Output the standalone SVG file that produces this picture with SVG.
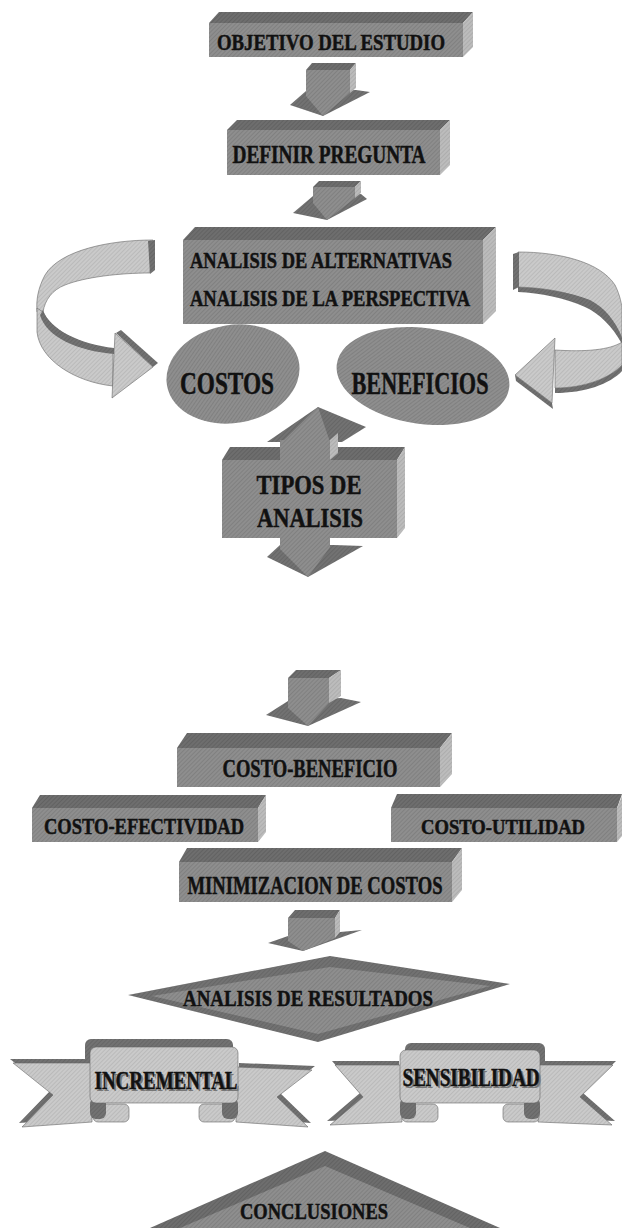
<svg xmlns="http://www.w3.org/2000/svg" width="622" height="1228" viewBox="0 0 622 1228">
<defs>
<pattern id="pFront" width="3" height="3" patternUnits="userSpaceOnUse" patternTransform="rotate(45)"><rect width="3" height="3" fill="#8e8e8e"/><rect width="1" height="3" fill="#808080"/></pattern>
<pattern id="pTop" width="3" height="3" patternUnits="userSpaceOnUse" patternTransform="rotate(45)"><rect width="3" height="3" fill="#6e6e6e"/><rect width="1" height="3" fill="#626262"/></pattern>
<pattern id="pSide" width="3" height="3" patternUnits="userSpaceOnUse" patternTransform="rotate(45)"><rect width="3" height="3" fill="#bcbcbc"/><rect width="1" height="3" fill="#adadad"/></pattern>
<pattern id="pLight" width="3" height="3" patternUnits="userSpaceOnUse" patternTransform="rotate(45)"><rect width="3" height="3" fill="#cacaca"/><rect width="1" height="3" fill="#bababa"/></pattern>
<pattern id="pDark" width="3" height="3" patternUnits="userSpaceOnUse" patternTransform="rotate(45)"><rect width="3" height="3" fill="#727272"/><rect width="1" height="3" fill="#666666"/></pattern>
</defs>
<style>
.front{fill:url(#pFront)}
.top{fill:url(#pTop)}
.side{fill:url(#pSide)}
.light{fill:url(#pLight);stroke:#666;stroke-width:0.6}
.dark{fill:url(#pDark)}
.lbl{font-family:"Liberation Serif","Times New Roman",serif;font-weight:bold;fill:#111;stroke:#111;stroke-width:0.5;text-anchor:middle}
.sh{font-family:"Liberation Serif","Times New Roman",serif;font-weight:bold;fill:#777;text-anchor:middle}
</style>
<rect width="622" height="1228" fill="#ffffff"/>

<g id="objetivo">
<polygon class="top" points="209,23 219,12 473,12 463,23"/>
<rect class="front" x="209" y="23" width="254" height="34"/>
<polygon class="side" points="463,23 473,12 473,47 463,57"/>
<text class="lbl" x="331" y="50" font-size="24" textLength="228" lengthAdjust="spacingAndGlyphs">OBJETIVO DEL ESTUDIO</text>
</g>

<g id="definir">
<polygon class="top" points="227,130 237,120 450,120 440,130"/>
<rect class="front" x="227" y="130" width="213" height="45"/>
<polygon class="side" points="440,130 450,120 450,165 440,175"/>
<text class="lbl" x="329" y="163" font-size="25" textLength="193" lengthAdjust="spacingAndGlyphs">DEFINIR PREGUNTA</text>
</g>

<g id="alternativas">
<polygon class="top" points="183,240 195,227 496,227 483,240"/>
<rect class="front" x="183" y="240" width="300" height="84"/>
<polygon class="side" points="483,240 496,227 496,311 483,324"/>
<text class="lbl" x="321" y="268" font-size="23" textLength="262" lengthAdjust="spacingAndGlyphs">ANALISIS DE ALTERNATIVAS</text>
<text class="lbl" x="330" y="306" font-size="23" textLength="280" lengthAdjust="spacingAndGlyphs">ANALISIS DE LA PERSPECTIVA</text>
</g>

<g id="costos">
<ellipse class="front" cx="233" cy="374" rx="67" ry="49" transform="rotate(-10 233 374)"/>
<text class="lbl" x="227" y="394" font-size="32" textLength="94" lengthAdjust="spacingAndGlyphs">COSTOS</text>
</g>

<g id="beneficios">
<ellipse class="front" cx="423" cy="376" rx="87" ry="48" transform="rotate(8 423 376)"/>
<text class="lbl" x="420" y="394" font-size="32" textLength="137" lengthAdjust="spacingAndGlyphs">BENEFICIOS</text>
</g>

<g id="tipos">
<polygon class="dark" points="267,442 318,407 366,427 342,442"/>
<polygon class="front" points="282,442 318,407 330,442"/>
<polygon class="top" points="222,460 230,447 405,447 397,460"/>
<rect class="front" x="222" y="460" width="175" height="78"/>
<polygon class="side" points="397,460 405,447 405,528 397,538"/>
<rect class="front" x="280" y="440" width="50" height="20"/>
<polygon class="side" points="330,440 338,433 338,453 330,460"/>
<polygon class="dark" points="280,545 267,557 308,577 363,546 334,545"/>
<polygon class="front" points="280,538 330,538 330,547 308,577 280,549"/>
<text class="lbl" x="309" y="494" font-size="28" textLength="105" lengthAdjust="spacingAndGlyphs">TIPOS DE</text>
<text class="lbl" x="310" y="527" font-size="28" textLength="106" lengthAdjust="spacingAndGlyphs">ANALISIS</text>
</g>

<g id="costo-beneficio">
<polygon class="top" points="177,748 187,733 452,733 440,748"/>
<rect class="front" x="177" y="748" width="263" height="39"/>
<polygon class="side" points="440,748 452,733 452,774 440,787"/>
<text class="lbl" x="310" y="777" font-size="26" textLength="175" lengthAdjust="spacingAndGlyphs">COSTO-BENEFICIO</text>
</g>

<g id="costo-efectividad">
<polygon class="top" points="32,808 40,795 266,795 258,808"/>
<rect class="front" x="32" y="808" width="226" height="34"/>
<polygon class="side" points="258,808 266,795 266,832 258,842"/>
<text class="lbl" x="144" y="834" font-size="24" textLength="200" lengthAdjust="spacingAndGlyphs">COSTO-EFECTIVIDAD</text>
</g>

<g id="costo-utilidad">
<polygon class="top" points="391,808 397,794 622,794 617,808"/>
<rect class="front" x="391" y="808" width="226" height="34"/>
<polygon class="side" points="617,808 622,796 622,836 617,842"/>
<text class="lbl" x="503" y="834" font-size="21" textLength="164" lengthAdjust="spacingAndGlyphs">COSTO-UTILIDAD</text>
</g>

<g id="minimizacion">
<polygon class="top" points="179,862 187,848 462,848 452,862"/>
<rect class="front" x="179" y="862" width="273" height="40"/>
<polygon class="side" points="452,862 462,848 462,890 452,902"/>
<text class="lbl" x="315" y="894" font-size="26" textLength="255" lengthAdjust="spacingAndGlyphs">MINIMIZACION DE COSTOS</text>
</g>

<g id="resultados">
<polygon class="dark" points="128,995 330,956 510,984 318,1042"/>
<polygon class="front" points="152,996 330,967 490,986 318,1034"/>
<text class="lbl" x="308" y="1006" font-size="24" textLength="250" lengthAdjust="spacingAndGlyphs">ANALISIS DE RESULTADOS</text>
</g>

<g id="incremental">
<rect class="dark" x="85" y="1039" width="148" height="57" rx="6"/>
<polygon class="dark" points="10,1059 89,1059 89,1118 19,1123 50,1091"/>
<polygon class="dark" points="239,1063 315,1066 280,1093 311,1123 239,1118"/>
<polygon class="light" points="13,1063 92,1063 92,1122 22,1127 53,1095"/>
<polygon class="light" points="236,1067 312,1070 277,1097 308,1127 236,1122"/>
<rect class="light" x="93" y="1104" width="36" height="18" rx="5"/>
<rect class="light" x="199" y="1104" width="36" height="18" rx="5"/>
<rect class="dark" x="90" y="1098" width="16" height="21" rx="6"/>
<rect class="dark" x="222" y="1098" width="16" height="21" rx="6"/>
<rect class="light" x="90" y="1047" width="148" height="56" rx="6"/>
<text class="sh" x="168" y="1091" font-size="26" textLength="143" lengthAdjust="spacingAndGlyphs">INCREMENTAL</text>
<text class="lbl" x="166" y="1089" font-size="26" textLength="143" lengthAdjust="spacingAndGlyphs">INCREMENTAL</text>
</g>

<g id="sensibilidad">
<rect class="dark" x="405" y="1043" width="140" height="53" rx="6"/>
<polygon class="dark" points="332,1061 399,1061 399,1118 327,1121 360,1093"/>
<polygon class="dark" points="541,1061 616,1061 583,1093 615,1121 541,1118"/>
<polygon class="light" points="335,1065 402,1065 402,1122 330,1125 363,1097"/>
<polygon class="light" points="538,1065 613,1065 580,1097 612,1125 538,1122"/>
<rect class="light" x="402" y="1104" width="36" height="18" rx="5"/>
<rect class="light" x="503" y="1104" width="36" height="18" rx="5"/>
<rect class="dark" x="400" y="1098" width="16" height="21" rx="6"/>
<rect class="dark" x="524" y="1098" width="16" height="21" rx="6"/>
<rect class="light" x="400" y="1050" width="140" height="53" rx="6"/>
<text class="sh" x="473" y="1088" font-size="26" textLength="137" lengthAdjust="spacingAndGlyphs">SENSIBILIDAD</text>
<text class="lbl" x="471" y="1086" font-size="26" textLength="137" lengthAdjust="spacingAndGlyphs">SENSIBILIDAD</text>
</g>

<g id="conclusiones">
<polygon class="top" points="150,1228 325,1151 500,1228"/>
<polygon class="front" points="180,1228 325,1166 470,1228"/>
<text class="lbl" x="314" y="1219" font-size="24" textLength="148" lengthAdjust="spacingAndGlyphs">CONCLUSIONES</text>
</g>

<g id="connectors">
<g id="arrow1">
<polygon class="dark" points="306,91 290,105 323,116 370,92 356,90"/>
<polygon class="top" points="306,70 312,63 356,63 350,70"/>
<polygon class="front" points="306,70 350,70 350,93 323,116 306,96"/>
<polygon class="side" points="350,70 356,63 356,88 350,93"/>
</g>
<g id="arrow2">
<polygon class="dark" points="313,196 293,213 327,220 367,199 361,194"/>
<polygon class="top" points="313,187 319,181 361,181 355,187"/>
<polygon class="front" points="313,187 355,187 355,198 327,220 313,203"/>
<polygon class="side" points="355,187 361,181 361,193 355,198"/>
</g>
<g id="arrow3">
<polygon class="dark" points="288,701 266,715 308,726 361,702 341,698"/>
<polygon class="top" points="288,678 296,670 341,670 329,678"/>
<polygon class="front" points="288,678 329,678 329,703 308,726 288,708"/>
<polygon class="side" points="329,678 341,670 341,696 329,703"/>
</g>
<g id="arrow4">
<polygon class="dark" points="288,936 268,943 303,951 362,930 340,932"/>
<polygon class="top" points="288,918 295,910 340,910 335,918"/>
<polygon class="front" points="288,918 335,918 335,938 303,951 288,941"/>
<polygon class="side" points="335,918 340,910 340,932 335,938"/>
</g>
<g id="arrow-left">
<path class="light" d="M153,240 C110,240 60,250 45,275 C38,288 36,300 37,312 L43,312 C45,300 52,290 65,285 C85,277 120,273 150,273 Z"/>
<path class="light" d="M37,308 L37,332 C40,360 75,382 113,386 L113,350 C80,345 50,330 43,312 Z"/>
<path class="dark" d="M43,310 C50,330 80,344 114,348 L114,354 C78,351 46,337 40,315 Z"/>
<polygon class="light" points="115,333 153,367 112,398"/>
<polygon class="dark" points="116,333 121,330 158,363 153,367"/>
<polygon class="dark" points="148,241 155,240 155,270 150,274"/>
</g>
<g id="arrow-right">
<path class="light" d="M518,252 C560,252 600,262 615,285 C620,295 622,305 622,310 L622,338 C615,320 600,305 580,298 C560,290 540,288 518,287 Z"/>
<path class="dark" d="M518,287 C545,288 570,292 590,300 C605,308 615,320 622,338 L622,344 C612,326 600,314 585,307 C565,298 540,293 518,292 Z"/>
<path class="light" d="M622,342 C610,350 585,352 555,350 L555,388 C585,388 610,378 622,365 Z"/>
<path class="dark" d="M555,388 C585,388 610,378 622,365 L622,371 C610,384 585,393 555,393 Z"/>
<polygon class="light" points="555,338 515,375 552,403"/>
<polygon class="dark" points="515,375 552,403 553,409 516,381"/>
<polygon class="dark" points="513,254 519,252 519,287 513,290"/>
</g>
</g>
</svg>
